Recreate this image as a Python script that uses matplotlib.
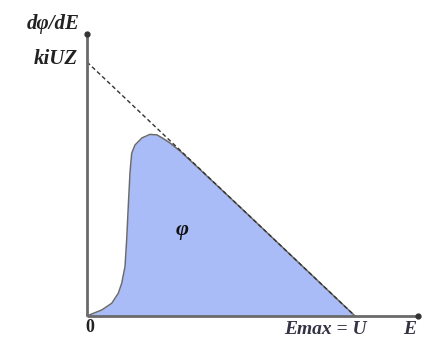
import matplotlib
matplotlib.use("Agg")
import matplotlib.pyplot as plt

# Spectrum data (E normalised to Emax = 1, dphi/dE normalised to kiUZ = 1)
energy = [0.0, 0.0175, 0.0549, 0.0922, 0.1168, 0.1295, 0.1418, 0.148, 0.154,
          0.1604, 0.1668, 0.179, 0.205, 0.235, 0.261, 0.287, 0.310, 0.35,
          0.40, 0.60, 0.80, 1.0]
flux = [0.0, 0.0079, 0.0236, 0.050, 0.0894, 0.1287, 0.194, 0.299, 0.430,
        0.563, 0.6406, 0.673, 0.701, 0.715, 0.713, 0.697, 0.681, 0.647,
        0.598, 0.40, 0.20, 0.0]
kramers_E = [0.0, 1.0]
kramers_flux = [1.0, 0.0]

fig = plt.figure(figsize=(4.29, 3.40), dpi=100)
ax = fig.add_axes([0, 0, 1, 1])
ax.set_xlim(-87 / 268, (429 - 87) / 268)
ax.set_ylim(-(340 - 316) / 254, 316 / 254)
ax.axis("off")

# fill under spectrum
ax.fill_between(energy, flux, 0, color="#aabcf7", zorder=2, linewidth=0)
ax.plot(energy, flux, color="#6b6b6b", lw=1.1, zorder=3, solid_joinstyle="round")

# Kramers dashed line
ax.plot(kramers_E, kramers_flux, color="#333333", lw=1.0, ls=(0, (3, 2)), zorder=4)

# axes
ymax = (316 - 34) / 254
xmax = (418 - 87) / 268
ax.plot([0, 0], [0, ymax], color="#6a6a6a", lw=2.0, zorder=5, solid_capstyle="butt")
ax.plot([0, xmax], [0, 0], color="#6a6a6a", lw=2.0, zorder=5, solid_capstyle="butt")
ax.plot([0], [ymax], marker="o", ms=3.5, color="#333333", zorder=6)
ax.plot([xmax], [0], marker="o", ms=3.5, color="#333333", zorder=6)

fam = ["Liberation Serif"]
tc = "#222222"
ax.text(-0.027, (316 - 24) / 254, "dφ/dE", ha="right", va="center",
        fontsize=15, style="italic", weight="semibold", family=fam, color=tc)
ax.text(-0.033, (316 - 59) / 254, "kiUZ", ha="right", va="center",
        fontsize=15, style="italic", weight="semibold", family=fam, color=tc)
ax.text(0.01, -(328 - 316) / 254, "0", ha="center", va="center",
        fontsize=13, weight="bold", family=fam, color=tc)
ax.text((325 - 87) / 268, -(330 - 316) / 254, "Emax = U", ha="center", va="center",
        fontsize=14, style="italic", weight="bold", family=fam, color="#333344")
ax.text((410 - 87) / 268, -(330 - 316) / 254, "E", ha="center", va="center",
        fontsize=14, style="italic", weight="bold", family=fam, color="#333344")
ax.text((182 - 87) / 268, (316 - 230) / 254, "φ", ha="center", va="center",
        fontsize=16, style="italic", weight="bold", family=fam, color="#111111", zorder=6)

fig.savefig("out.png", dpi=100)
